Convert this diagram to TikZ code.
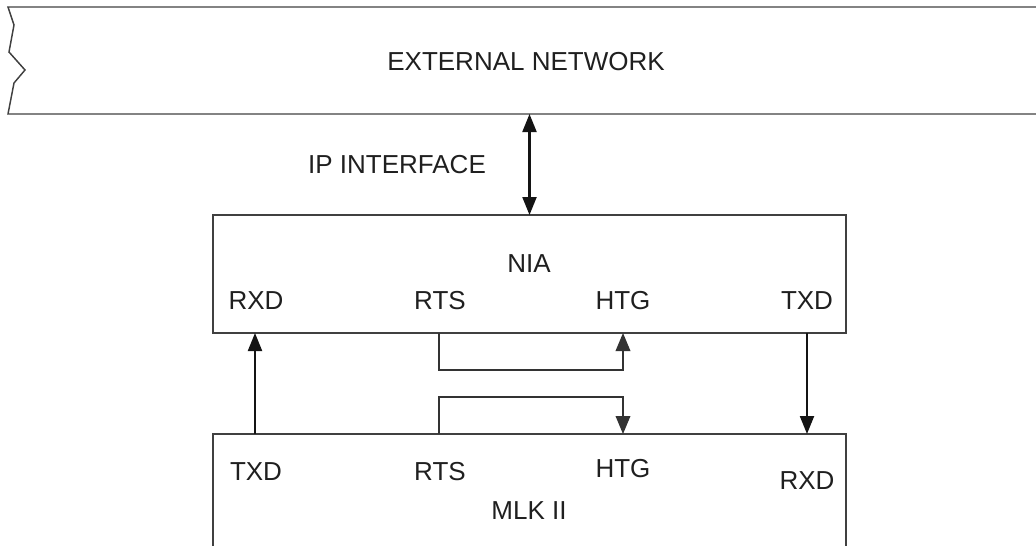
\documentclass[tikz,border=0pt]{standalone}
\usepackage{fontspec}
\setmainfont{Liberation Sans}
\usetikzlibrary{arrows.meta}
\begin{document}
\begin{tikzpicture}[x=0.75pt,y=-0.75pt,
  lbl/.style={font=\fontsize{19.5}{22}\selectfont, text=black!88, inner sep=0pt, anchor=center},
  boxline/.style={draw=black!75, line width=1.1pt},
  frame/.style={inner sep=0pt, outer sep=0pt},
  conn/.style={draw=black!92, line width=1.6pt, -{Triangle[length=13.5pt,width=10.5pt]}},
  dconn/.style={draw=black!92, line width=1.6pt, {Triangle[length=13.5pt,width=10.5pt]}-{Triangle[length=13.5pt,width=10.5pt]}},
  loopconn/.style={draw=black!80, line width=1.1pt, -{Triangle[length=13.5pt,width=11pt]}},
]
\useasboundingbox (0,0) rectangle (1036,546);

% external network
\node (ext) [frame, minimum width=771pt, minimum height=80.25pt] at (522,60.5) {};
\draw[boxline, line join=miter] (ext.north east) -- (ext.north west) -- (14,25) -- (9,52) -- (25,70) -- (14,83) -- (ext.south west) -- (ext.south east);
\node (extlbl) [lbl] at (526,62) {EXTERNAL NETWORK};

% NIA box
\node (nia) [frame, boxline, draw, minimum width=474.75pt, minimum height=88.5pt] at (529.5,274) {};
\node (nialbl) [lbl] at (529,264) {NIA};
\node (rxd1) [lbl] at (256,301) {RXD};
\node (rts1) [lbl] at (440,301) {RTS};
\node (htg1) [lbl] at (623,301) {HTG};
\node (txd1) [lbl] at (807,301) {TXD};

% MLK II box (open at the bottom)
\node (mlk) [frame, minimum width=474.75pt, minimum height=84pt] at (529.5,490) {};
\draw[boxline] (mlk.south west) |- (mlk.north east) -- (mlk.south east);
\node (txd2) [lbl] at (256,472) {TXD};
\node (rts2) [lbl] at (440,472) {RTS};
\node (htg2) [lbl] at (623,469) {HTG};
\node (rxd2) [lbl] at (807,481) {RXD};
\node (mlklbl) [lbl] at (529,511) {MLK II};

% IP interface
\node (iplbl) [lbl] at (397,165) {IP INTERFACE};
\draw[dconn] (nia.north |- ext.south) -- (nia.north);

% connectors
\coordinate (t1) at (255,0);
\coordinate (t2) at (439,0);
\coordinate (t3) at (623,0);
\coordinate (t4) at (807,0);
\draw[conn] (mlk.north -| t1) -- (nia.south -| t1);
\draw[conn] (nia.south -| t4) -- (mlk.north -| t4);
\draw[loopconn] (nia.south -| t2) -- ++(0,37) -| (nia.south -| t3);
\draw[loopconn] (mlk.north -| t2) -- ++(0,-37) -| (mlk.north -| t3);
\end{tikzpicture}
\end{document}
